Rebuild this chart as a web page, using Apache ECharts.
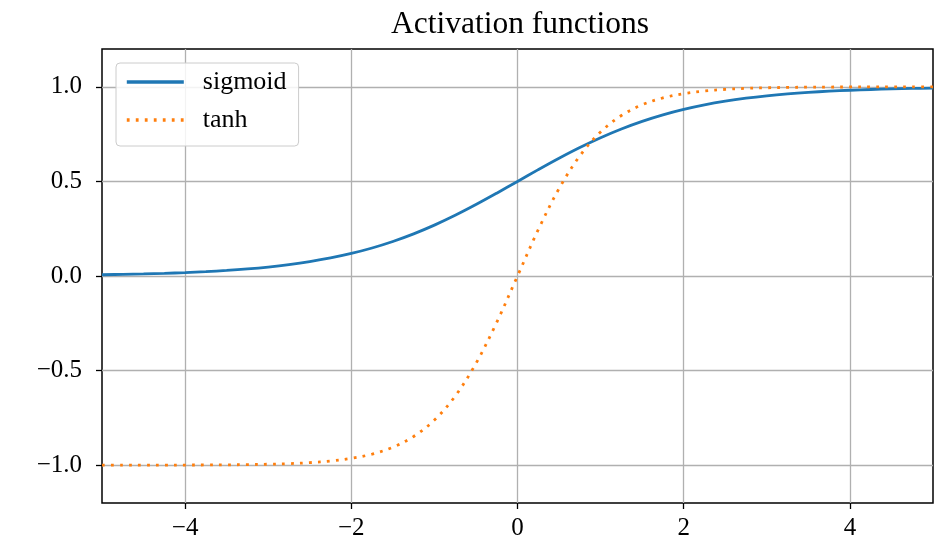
<!DOCTYPE html>
<html>
<head>
<meta charset="utf-8">
<script src="https://cdn.jsdelivr.net/npm/echarts@6/dist/echarts.min.js"></script>
<style>
  html, body { margin: 0; padding: 0; background: #fff; }
  #chart { width: 941px; height: 543px; }
</style>
</head>
<body>
<div id="chart"></div>
<script>
// Sample positions along x
const xs = [
  -5, -4.75, -4.5, -4.25, -4, -3.75, -3.5, -3.25, -3, -2.75, -2.5, -2.25, -2,
  -1.75, -1.5, -1.25, -1, -0.75, -0.5, -0.25, 0, 0.25, 0.5, 0.75, 1, 1.25,
  1.5, 1.75, 2, 2.25, 2.5, 2.75, 3, 3.25, 3.5, 3.75, 4, 4.25, 4.5, 4.75, 5
];

// Logistic sigmoid values at xs
const sigmoidVals = [
  0.00669, 0.00858, 0.01099, 0.01406, 0.01799, 0.02298, 0.02931, 0.03733,
  0.04743, 0.06009, 0.07586, 0.09535, 0.11920, 0.14805, 0.18243, 0.22270,
  0.26894, 0.32082, 0.37754, 0.43782, 0.5, 0.56218, 0.62246, 0.67918,
  0.73106, 0.77730, 0.81757, 0.85195, 0.88080, 0.90465, 0.92414, 0.93991,
  0.95257, 0.96267, 0.97069, 0.97702, 0.98201, 0.98594, 0.98901, 0.99142,
  0.99331
];

// Hyperbolic tangent values at xs
const tanhVals = [
  -0.99991, -0.99985, -0.99975, -0.99959, -0.99933, -0.99889, -0.99818,
  -0.99700, -0.99505, -0.99186, -0.98661, -0.97803, -0.96403, -0.94138,
  -0.90515, -0.84828, -0.76159, -0.63515, -0.46212, -0.24492, 0, 0.24492,
  0.46212, 0.63515, 0.76159, 0.84828, 0.90515, 0.94138, 0.96403, 0.97803,
  0.98661, 0.99186, 0.99505, 0.99700, 0.99818, 0.99889, 0.99933, 0.99959,
  0.99975, 0.99985, 0.99991
];

const xTicks = [-4, -2, 0, 2, 4];
const yTicks = [-1.0, -0.5, 0.0, 0.5, 1.0];
const seriesNames = ['sigmoid', 'tanh'];

const SERIF = '"Liberation Serif", "DejaVu Serif", serif';
const minus = s => String(s).replace('-', '\u2212');

const chart = echarts.init(document.getElementById('chart'), null, { renderer: 'canvas' });

chart.setOption({
  animation: false,
  backgroundColor: '#fff',
  title: {
    text: 'Activation functions',
    left: 515,
    top: 4,
    textAlign: 'center',
    textStyle: { fontFamily: SERIF, fontSize: 31.5, fontWeight: 'normal', color: '#000' }
  },
  grid: {
    left: 102, right: 8, top: 49, bottom: 40,
    show: true, borderColor: '#000', borderWidth: 1.5, backgroundColor: 'transparent'
  },
  legend: {
    orient: 'vertical',
    left: 116,
    top: 63,
    padding: [6, 12, 13, 9],
    itemWidth: 57,
    itemHeight: 14,
    itemGap: 12,
    backgroundColor: 'rgba(255,255,255,0.85)',
    borderColor: '#cccccc',
    borderWidth: 1,
    borderRadius: 4,
    itemStyle: { opacity: 0 },
    lineStyle: { width: 3.6 },
    textStyle: { fontFamily: SERIF, fontSize: 26, color: '#000', padding: [0, 0, 0, 14] },
    data: seriesNames
  },
  xAxis: {
    type: 'value',
    min: -5,
    max: 5,
    axisLine: { show: false, onZero: false },
    axisTick: { show: true, length: 6, inside: false, customValues: xTicks, lineStyle: { color: '#000', width: 1.3 } },
    axisLabel: {
      customValues: xTicks,
      margin: 13,
      fontFamily: SERIF, fontSize: 25, color: '#000',
      formatter: v => minus(v)
    },
    splitLine: { show: true, lineStyle: { color: '#b0b0b0', width: 1.3 } }
  },
  yAxis: {
    type: 'value',
    min: -1.2,
    max: 1.2,
    axisLine: { show: false, onZero: false },
    axisTick: { show: true, length: 6, inside: false, customValues: yTicks, lineStyle: { color: '#000', width: 1.3 } },
    axisLabel: {
      customValues: yTicks,
      margin: 20,
      fontFamily: SERIF, fontSize: 25, color: '#000',
      formatter: v => minus(Number(v).toFixed(1))
    },
    splitLine: { show: true, lineStyle: { color: '#b0b0b0', width: 1.3 } }
  },
  series: [
    {
      name: seriesNames[0],
      type: 'line',
      data: xs.map((x, i) => [x, sigmoidVals[i]]),
      symbol: 'none',
      smooth: 0.35,
      color: '#1f77b4',
      lineStyle: { color: '#1f77b4', width: 2.8 },
      z: 3
    },
    {
      name: seriesNames[1],
      type: 'line',
      data: xs.map((x, i) => [x, tanhVals[i]]),
      symbol: 'none',
      smooth: 0.35,
      color: '#ff7f0e',
      lineStyle: { color: '#ff7f0e', width: 2.8, type: [2.8, 6.2] },
      z: 4
    }
  ]
});
</script>
</body>
</html>
